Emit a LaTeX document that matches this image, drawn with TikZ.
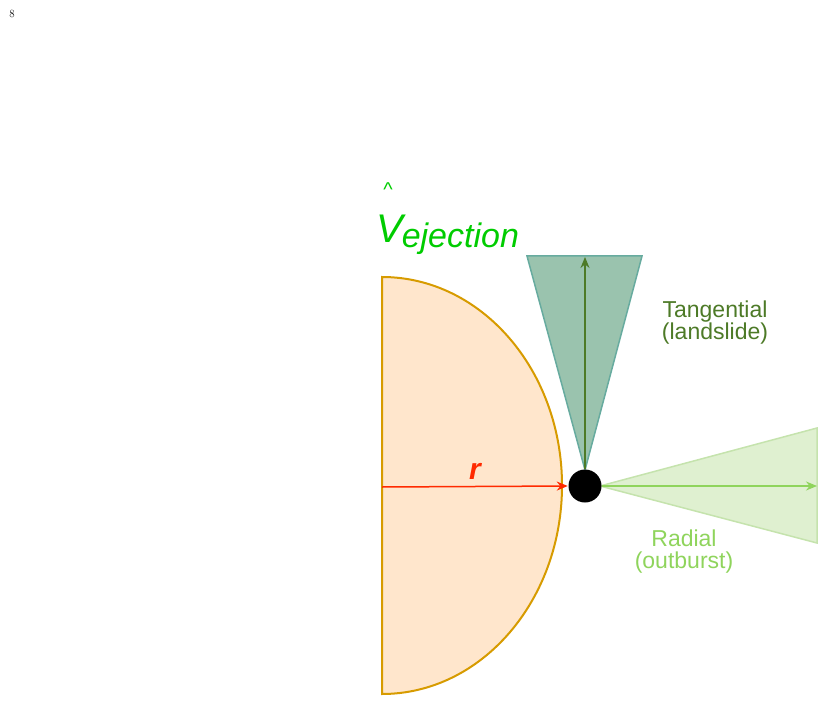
\documentclass[tikz,border=0pt]{standalone}
\usepackage{fontspec}
\setsansfont{Liberation Sans}
\usetikzlibrary{arrows.meta,positioning}
\definecolor{bodyfill}{HTML}{FFE6CC}
\definecolor{bodyline}{HTML}{D79B00}
\definecolor{darkcone}{HTML}{9AC3AE}
\definecolor{darkconeline}{HTML}{67AB9F}
\definecolor{darkarrow}{HTML}{4D7A27}
\definecolor{lightcone}{HTML}{DFF0D0}
\definecolor{lightconeline}{HTML}{C5E3AD}
\definecolor{lightarrow}{HTML}{8FD45C}
\definecolor{vcol}{HTML}{00CC00}
\definecolor{rcol}{HTML}{FF2A00}
\tikzset{
>={Stealth[length=11pt,width=9pt]},
label text/.style={font=\sffamily\fontsize{23}{22}\selectfont, align=center},
}
\begin{document}
\begin{tikzpicture}[x=1pt,y=-1pt,line width=1.5pt]
  \useasboundingbox (0,0) rectangle (824,703);
  \node[font=\fontsize{11}{11}\selectfont] (page) at (12,14) {8};

  % body
  \draw[bodyline,fill=bodyfill,line width=2pt] (382,277) coordinate (top)
    arc[start angle=90,end angle=-90,x radius=180,y radius=-208.5] coordinate (bottom) -- cycle;
  \coordinate (centre) at (382,487);

  % cones
  \draw[darkconeline,fill=darkcone] (585,470) -- (527,256) -- (642,256) -- cycle;
  \draw[lightconeline,fill=lightcone] (600,486) -- (817,428) -- (817,543) -- cycle;

  \node[circle,fill=black,minimum size=33pt,inner sep=0pt] (site) at (585,486) {};
  \coordinate (tanend) at (585,257);
  \coordinate (radend) at (817,486);

  \draw[->,darkarrow] (site) -- (tanend);
  \draw[->,lightarrow] (site) -- (radend);
  \draw[->,rcol] (centre) -- node[above=3pt,font=\sffamily\bfseries\itshape\fontsize{30}{30}\selectfont]{r} (site.west);

  \node[label text,darkarrow] (tang) at (715,323) {Tangential\\(landslide)};
  \node[label text,lightarrow] (rad) at (684,552) {Radial\\(outburst)};
  \node[vcol,font=\sffamily\itshape\fontsize{40}{40}\selectfont,anchor=base west] (vej) at (372,243)
    {V\kern-1pt\raisebox{-5pt}{\fontsize{34}{34}\selectfont ejection}};
  \node[vcol,font=\sffamily\fontsize{20}{20}\selectfont] (hat) at (388,190) {\textasciicircum};
\end{tikzpicture}
\end{document}
